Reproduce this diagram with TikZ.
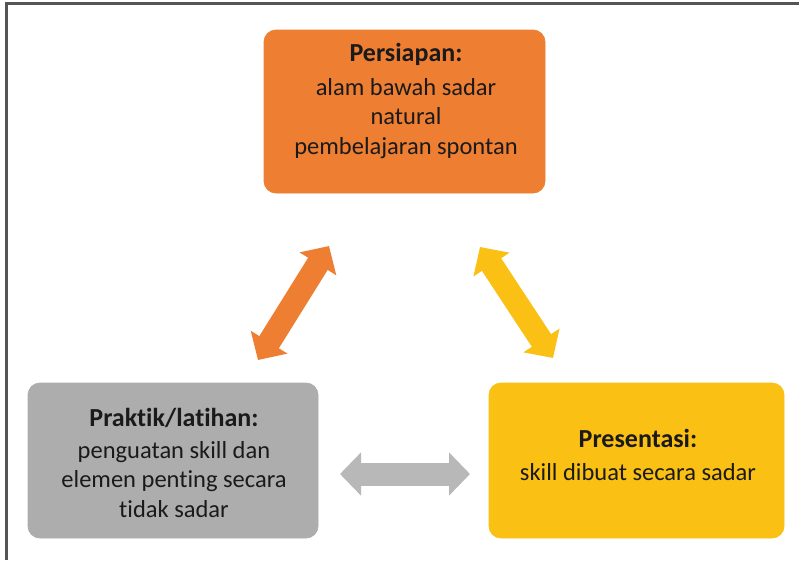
\documentclass[tikz,border=0pt]{standalone}
\usepackage{fontspec}
\setmainfont{Carlito}[Ligatures=NoCommon]
\usetikzlibrary{arrows.meta}
\definecolor{orng}{HTML}{EE7E32}
\definecolor{ylw}{HTML}{FBC014}
\definecolor{gbox}{HTML}{ADADAD}
\definecolor{garr}{HTML}{B8B8B8}
\definecolor{frm}{HTML}{555555}
\definecolor{txtc}{HTML}{1A1A1A}
\begin{document}
\begin{tikzpicture}[x=1pt,y=-1pt,
  stagebox/.style={rectangle, rounded corners=12pt, inner sep=0pt, draw=#1, fill=#1, line width=0.8pt},
  stagetext/.style={align=center, inner sep=0pt, text=txtc, font=\fontsize{24.5}{29.5}\selectfont},
  dblarrow/.style={draw=#1, line width=23pt,
    {Triangle[width=42pt,length=21pt]}-{Triangle[width=42pt,length=21pt]}}
]
\useasboundingbox (0,0) rectangle (799,560);
\fill[white] (0,0) rectangle (799,560);
% frame
\draw[frm, line width=2.2pt] (6.5,560) -- (6.5,3.5) -- (799,3.5);

% boxes
\node[stagebox=orng, minimum width=281pt, minimum height=163pt] (prep) at (404.5,111.5) {};
\node[stagebox=gbox, minimum width=290pt, minimum height=155pt] (prac) at (173,460.5) {};
\node[stagebox=ylw, minimum width=295pt, minimum height=155pt] (pres) at (636.5,460.5) {};

% texts
\node[stagetext] (prepT) at (406,101) {{\bfseries\fontsize{26}{30}\selectfont Persiapan:}\\[4pt]alam bawah sadar\\natural\\pembelajaran spontan};
\node[stagetext] (pracT) at (174,463) {{\bfseries\fontsize{26}{30}\selectfont Praktik/latihan:}\\[2pt]penguatan skill dan\\elemen penting secara\\tidak sadar};
\node[stagetext] (presT) at (638,455) {{\bfseries\fontsize{26}{30}\selectfont Presentasi:}\\[4pt]skill dibuat secara sadar};

% arrow ends
\coordinate (o1) at (258,360);
\coordinate (o2) at (329,246);
\coordinate (y1) at (480,247);
\coordinate (y2) at (553,358);
\coordinate (g1) at (340,474);
\coordinate (g2) at (470,474);

\draw[dblarrow=orng] (o1) -- (o2);
\draw[dblarrow=ylw] (y1) -- (y2);
\draw[dblarrow=garr] (g1) -- (g2);
\end{tikzpicture}
\end{document}
